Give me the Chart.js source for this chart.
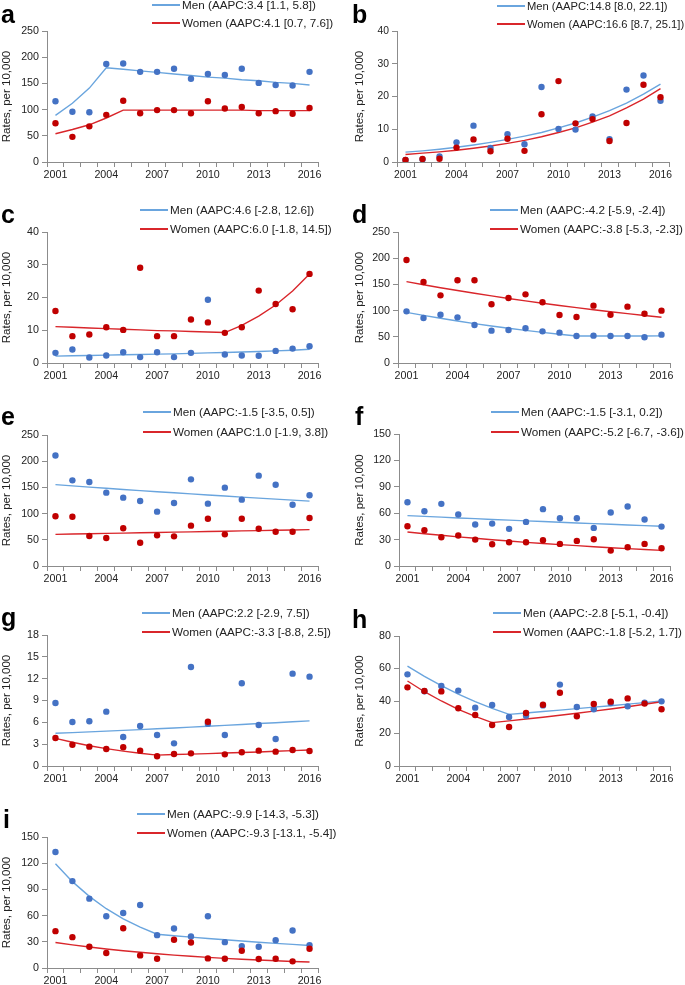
<!DOCTYPE html>
<html><head><meta charset="utf-8">
<script src="https://cdn.jsdelivr.net/npm/chart.js@4/dist/chart.umd.min.js"></script>
<style>
body{margin:0;background:#fff;width:685px;height:985px;position:relative;overflow:hidden;font-family:"Liberation Sans",Arial,sans-serif;}
canvas{position:absolute;}
.letter{position:absolute;font-weight:bold;font-size:25px;line-height:25px;color:#000;}
.leg{position:absolute;font-size:11.7px;color:#222;white-space:nowrap;line-height:14px;}
.sw{display:inline-block;width:28px;height:1.5px;vertical-align:middle;margin-right:2px;position:relative;top:-1px;}
</style>
</head><body>
<script>
// ---------- DATA ----------
const years = ["2001","2002","2003","2004","2005","2006","2007","2008","2009","2010","2011","2012","2013","2014","2015","2016"];
const yAxisTitle = "Rates, per 10,000";

const aMenPts   = [116, 96, 95, 187, 188, 172, 172, 178, 159, 168, 166, 178, 151, 147, 146, 172];
const aWomenPts = [74, 48, 68, 90, 117, 93, 99, 99, 93, 116, 102, 105, 93, 97, 92, 103];
const aMenFit   = [89, 112, 141, 180, 177, 174, 171, 168, 165, 162, 160, 157, 155, 152, 150, 147];
const aWomenFit = [54, 62, 71, 84, 99, 99, 99, 99, 99, 99, 99, 99, 98, 98, 98, 98];
const aLegend   = ["Men (AAPC:3.4 [1.1, 5.8])", "Women (AAPC:4.1 [0.7, 7.6])"];

const bMenPts   = [0.6, 0.8, 1.7, 6.0, 11.1, 4.3, 8.5, 5.4, 22.9, 10.1, 9.9, 13.9, 7.0, 22.1, 26.4, 18.7];
const bWomenPts = [0.6, 0.9, 1.0, 4.4, 6.9, 3.3, 7.1, 3.4, 14.6, 24.7, 11.8, 13.1, 6.4, 11.9, 23.6, 19.8];
const bMenFit   = [3.0, 3.4, 3.9, 4.5, 5.2, 6.0, 6.9, 7.9, 9.0, 10.4, 11.9, 13.7, 15.7, 18.0, 20.7, 23.8];
const bWomenFit = [2.3, 2.7, 3.1, 3.6, 4.2, 4.9, 5.7, 6.6, 7.7, 9.0, 10.4, 12.2, 14.1, 16.5, 19.2, 22.4];
const bLegend   = ["Men (AAPC:14.8 [8.0, 22.1])", "Women (AAPC:16.6 [8.7, 25.1])"];

const cMenPts   = [3.1, 4.1, 1.7, 2.3, 3.3, 1.8, 3.3, 1.8, 3.1, 19.3, 2.6, 2.3, 2.2, 3.7, 4.4, 5.1];
const cWomenPts = [15.9, 8.2, 8.7, 10.9, 10.1, 29.1, 8.2, 8.2, 13.3, 12.4, 9.2, 10.9, 22.1, 18.0, 16.4, 27.2];
const cMenFit   = [2.1, 2.2, 2.3, 2.4, 2.5, 2.6, 2.7, 2.8, 2.95, 3.1, 3.2, 3.35, 3.5, 3.7, 3.9, 4.2];
const cWomenFit = [11.1, 10.9, 10.7, 10.5, 10.3, 10.1, 9.9, 9.8, 9.6, 9.45, 9.3, 11.5, 14.3, 17.7, 22.0, 27.2];
const cLegend   = ["Men (AAPC:4.6 [-2.8, 12.6])", "Women (AAPC:6.0 [-1.8, 14.5])"];

const dMenPts   = [98.6, 85.9, 92.2, 87.1, 72.5, 61.7, 63.0, 66.2, 60.4, 57.9, 51.5, 52.2, 51.5, 51.5, 49.0, 54.1];
const dWomenPts = [196.6, 154.6, 129.1, 157.8, 157.8, 112.0, 124.0, 131.0, 115.8, 91.6, 87.8, 109.4, 92.2, 107.5, 94.1, 99.9];
const dMenFit   = [96.7, 90.8, 85.3, 80.1, 75.2, 70.6, 66.3, 62.3, 58.5, 54.9, 51.5, 51.5, 51.5, 51.5, 51.5, 51.8];
const dWomenFit = [155.2, 149.4, 143.7, 138.3, 133.1, 128.1, 123.2, 118.6, 114.1, 109.8, 105.7, 101.7, 97.9, 94.2, 90.6, 87.2];
const dLegend   = ["Men (AAPC:-4.2 [-5.9, -2.4])", "Women (AAPC:-3.8 [-5.3, -2.3])"];

const eMenPts   = [211.0, 163.5, 160.3, 140.0, 130.4, 124.0, 103.7, 120.2, 165.4, 119.0, 149.5, 126.6, 172.4, 155.2, 117.0, 134.9];
const eWomenPts = [94.8, 94.1, 57.3, 53.4, 71.9, 44.5, 58.5, 56.6, 77.0, 90.3, 60.4, 90.3, 71.2, 65.5, 65.5, 91.6];
const eMenFit   = [155.2, 152.9, 150.6, 148.3, 146.1, 143.9, 141.8, 139.7, 137.6, 135.5, 133.5, 131.5, 129.5, 127.6, 125.7, 123.8];
const eWomenFit = [60.4, 61.0, 61.6, 62.2, 62.8, 63.4, 64.0, 64.6, 65.2, 65.8, 66.4, 67.0, 67.6, 68.2, 68.8, 69.4];
const eLegend   = ["Men (AAPC:-1.5 [-3.5, 0.5])", "Women (AAPC:1.0 [-1.9, 3.8])"];

const fMenPts   = [72.5, 62.3, 70.6, 58.5, 47.1, 48.2, 42.2, 50.1, 64.6, 54.3, 54.3, 43.3, 60.8, 67.6, 52.8, 44.8];
const fWomenPts = [45.2, 40.6, 32.7, 34.6, 30.0, 24.7, 27.0, 27.0, 29.2, 25.1, 28.5, 30.4, 17.5, 21.3, 25.1, 20.1];
const fMenFit   = [57.3, 56.4, 55.5, 54.6, 53.8, 52.9, 52.1, 51.3, 50.5, 49.7, 48.9, 48.1, 47.4, 46.6, 45.9, 45.2];
const fWomenFit = [38.7, 36.7, 34.9, 33.1, 31.5, 29.9, 28.4, 26.9, 25.6, 24.3, 23.1, 21.9, 20.8, 19.7, 18.7, 17.8];
const fLegend   = ["Men (AAPC:-1.5 [-3.1, 0.2])", "Women (AAPC:-5.2 [-6.7, -3.6])"];

const gMenPts   = [8.66, 6.05, 6.14, 7.47, 3.99, 5.50, 4.26, 3.11, 13.6, 5.82, 4.26, 11.36, 5.63, 3.71, 12.69, 12.28];
const gWomenPts = [3.85, 2.93, 2.66, 2.34, 2.57, 2.11, 1.33, 1.65, 1.74, 6.09, 1.60, 1.88, 2.11, 1.97, 2.20, 2.06];
const gMenFit   = [4.49, 4.59, 4.69, 4.79, 4.90, 5.00, 5.11, 5.23, 5.34, 5.46, 5.58, 5.70, 5.83, 5.95, 6.08, 6.20];
const gWomenFit = [3.80, 3.26, 2.79, 2.39, 2.05, 1.76, 1.50, 1.57, 1.63, 1.70, 1.78, 1.85, 1.93, 2.02, 2.11, 2.20];
const gLegend   = ["Men (AAPC:2.2 [-2.9, 7.5])", "Women (AAPC:-3.3 [-8.8, 2.5])"];

const hMenPts   = [56.4, 46.0, 49.2, 46.4, 35.9, 37.5, 30.2, 31.0, 37.3, 50.1, 36.3, 34.9, 38.8, 36.7, 39.0, 39.8];
const hWomenPts = [48.4, 46.2, 45.9, 35.5, 31.4, 25.2, 24.0, 32.6, 37.7, 45.1, 30.6, 38.2, 39.6, 41.6, 38.4, 34.9];
const hMenFit   = [61.5, 55.1, 49.4, 44.2, 39.6, 35.5, 31.8, 32.6, 33.5, 34.4, 35.3, 36.2, 37.1, 38.1, 39.0, 40.0];
const hWomenFit = [52.3, 45.7, 40.0, 34.9, 30.5, 26.7, 27.8, 28.9, 30.0, 31.2, 32.5, 33.8, 35.1, 36.5, 38.0, 39.5];
const hLegend   = ["Men (AAPC:-2.8 [-5.1, -0.4])", "Women (AAPC:-1.8 [-5.2, 1.7])"];

const iMenPts   = [132.9, 99.5, 79.4, 59.2, 63.0, 72.2, 37.6, 45.2, 36.1, 59.2, 29.6, 25.1, 24.3, 31.9, 42.9, 26.2];
const iWomenPts = [42.2, 35.3, 24.3, 17.1, 45.6, 14.4, 10.6, 32.3, 29.2, 11.0, 10.6, 19.7, 10.3, 10.6, 7.6, 22.0];
const iMenFit   = [119.3, 98.9, 82.0, 67.9, 56.3, 46.7, 38.7, 37.0, 35.4, 33.8, 32.3, 30.9, 29.5, 28.2, 27.0, 25.8];
const iWomenFit = [29.2, 26.5, 24.0, 21.8, 19.8, 18.0, 16.3, 14.8, 13.4, 12.2, 11.0, 10.0, 9.1, 8.3, 7.5, 6.8];
const iLegend   = ["Men (AAPC:-9.9 [-14.3, -5.3])", "Women (AAPC:-9.3 [-13.1, -5.4])"];

// y-axis ranges (max, step) per panel
const yMax  = {a:250, b:40, c:40, d:250, e:250, f:150, g:18, h:80, i:150};
const yStep = {a:50,  b:10, c:10, d:50,  e:50,  f:30,  g:3,  h:20, i:30};

// ---------- LAYOUT / STYLE ----------
const FONT = '"Liberation Sans", Arial, sans-serif';
const C = {menPt:'#4472C4', womenPt:'#C00000', menLine:'#6AA5DE', womenLine:'#D9262B', axis:'#8C8C8C', text:'#222'};

const layout = {
  a:{cv:[0,0,340,184],   L:47,  R:318, T:31,  B:162, tp:0,  fs:10.7, lf:11.7, letter:[1,2],     leg:[152,5,23]},
  b:{cv:[340,0,345,184], L:397, R:669, T:31,  B:162, tp:13, fs:10.3, lf:11.2, letter:[352,2],   leg:[497,6,24]},
  c:{cv:[0,185,340,200], L:47,  R:318, T:232, B:363, tp:0,  fs:10.7, lf:11.7, letter:[1,202],   leg:[140,210,229]},
  d:{cv:[340,185,345,200],L:398,R:670, T:232, B:363, tp:13, fs:10.7, lf:11.7, letter:[352,202], leg:[490,210,229]},
  e:{cv:[0,388,340,200], L:47,  R:318, T:435, B:566, tp:0,  fs:10.7, lf:11.7, letter:[1,404],   leg:[143,412,432]},
  f:{cv:[340,388,345,200],L:399,R:670, T:434, B:566, tp:13, fs:10.7, lf:11.7, letter:[355,404], leg:[491,412,432]},
  g:{cv:[0,590,340,198], L:47,  R:318, T:635, B:766, tp:0,  fs:10.7, lf:11.7, letter:[1,605],   leg:[142,613,632]},
  h:{cv:[340,590,345,198],L:399,R:670, T:636, B:766, tp:13, fs:10.7, lf:11.7, letter:[352,607], leg:[493,613,632]},
  i:{cv:[0,790,340,195], L:47,  R:318, T:837, B:968, tp:0,  fs:10.7, lf:11.7, letter:[3,807],   leg:[137,814,833]}
};

const panelData = {
  a:[aMenPts,aWomenPts,aMenFit,aWomenFit,aLegend],
  b:[bMenPts,bWomenPts,bMenFit,bWomenFit,bLegend],
  c:[cMenPts,cWomenPts,cMenFit,cWomenFit,cLegend],
  d:[dMenPts,dWomenPts,dMenFit,dWomenFit,dLegend],
  e:[eMenPts,eWomenPts,eMenFit,eWomenFit,eLegend],
  f:[fMenPts,fWomenPts,fMenFit,fWomenFit,fLegend],
  g:[gMenPts,gWomenPts,gMenFit,gWomenFit,gLegend],
  h:[hMenPts,hWomenPts,hMenFit,hWomenFit,hLegend],
  i:[iMenPts,iWomenPts,iMenFit,iWomenFit,iLegend]
};

function addDiv(cls, left, top, html, fs){
  const d=document.createElement('div'); d.className=cls;
  d.style.left=left+'px'; d.style.top=top+'px'; d.innerHTML=html;
  if (fs) d.style.fontSize = fs+'px';
  document.body.appendChild(d); return d;
}

for (const key of Object.keys(layout)){
  const Lo = layout[key];
  const [menPts, womenPts, menFit, womenFit, legend] = panelData[key];
  const [cx,cy,cw,ch] = Lo.cv;
  const cv=document.createElement('canvas');
  cv.width=cw; cv.height=ch;
  cv.style.left=cx+'px'; cv.style.top=cy+'px';
  cv.style.width=cw+'px'; cv.style.height=ch+'px';
  document.body.appendChild(cv);

  const yW = Lo.L - cx, xH = cy+ch - Lo.B;
  new Chart(cv.getContext('2d'), {
    type:'line',
    data:{
      labels: years,
      datasets:[
        {data:womenPts, showLine:false, pointRadius:3.2, pointBorderWidth:0, pointBackgroundColor:C.womenPt, backgroundColor:C.womenPt, borderColor:C.womenPt},
        {data:menPts, showLine:false, pointRadius:3.2, pointBorderWidth:0, pointBackgroundColor:C.menPt, backgroundColor:C.menPt, borderColor:C.menPt},
        {data:womenFit, pointRadius:0, borderWidth:1.4, borderColor:C.womenLine, tension:0, fill:false},
        {data:menFit, pointRadius:0, borderWidth:1.4, borderColor:C.menLine, tension:0, fill:false}
      ]
    },
    options:{
      responsive:false, animation:false, devicePixelRatio:1,
      layout:{padding:{top:Lo.T-cy, right:cx+cw-Lo.R, left:0, bottom:0}},
      plugins:{legend:{display:false}, tooltip:{enabled:false}, title:{display:false}},
      scales:{
        x:{
          type:'category', offset:true,
          grid:{offset:true, drawOnChartArea:false, drawTicks:true, tickLength:5, color:C.axis, lineWidth:1},
          border:{display:true, color:C.axis, width:1},
          ticks:{autoSkip:false, maxRotation:0, minRotation:0, padding:2, color:C.text, font:{family:FONT, size:Lo.fs},
                 callback:(v,i)=> (i%3===0 ? years[i] : '')},
          afterFit:(s)=>{ s.height = xH; }
        },
        y:{
          min:0, max:yMax[key],
          grid:{drawOnChartArea:false, drawTicks:true, tickLength:5, color:C.axis, lineWidth:1},
          border:{display:true, color:C.axis, width:1},
          ticks:{stepSize:yStep[key], padding:3, color:C.text, font:{family:FONT, size:Lo.fs}},
          title:{display:true, text:yAxisTitle, color:C.text, font:{family:FONT, size:11.5}, padding:{top:Lo.tp, bottom:0}},
          afterFit:(s)=>{ s.width = yW; }
        }
      }
    }
  });

  addDiv('letter', Lo.letter[0], Lo.letter[1], key);
  addDiv('leg', Lo.leg[0], Lo.leg[1]-7, '<span class="sw" style="background:'+C.menLine+'"></span>'+legend[0], Lo.lf);
  addDiv('leg', Lo.leg[0], Lo.leg[2]-7, '<span class="sw" style="background:'+C.womenLine+'"></span>'+legend[1], Lo.lf);
}
</script>
</body></html>
